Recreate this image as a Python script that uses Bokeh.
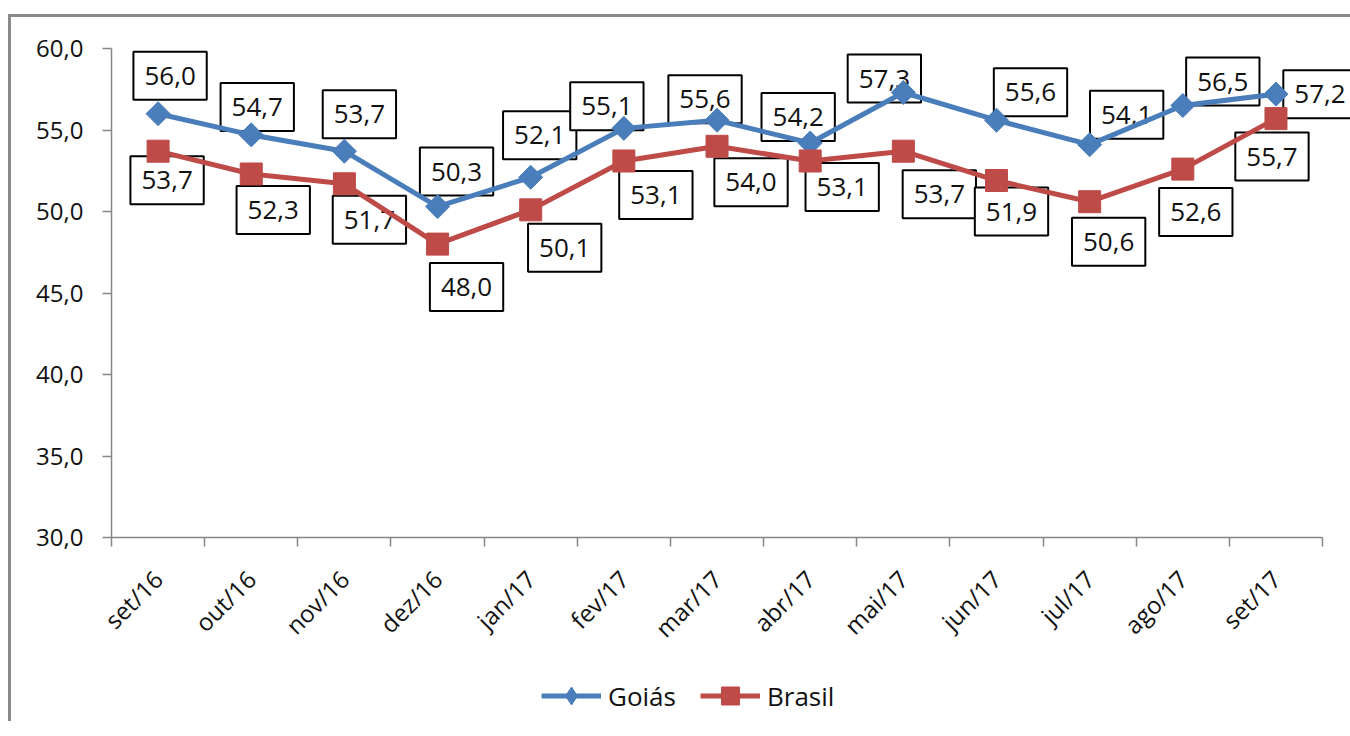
import math
from bokeh.plotting import figure
from bokeh.models import (Range1d, FixedTicker, Label, Legend, LegendItem, Spacer)
from bokeh.layouts import column
from bokeh.embed import file_html
from bokeh.resources import INLINE

# ---- data ----
categories = ["set/16", "out/16", "nov/16", "dez/16", "jan/17", "fev/17", "mar/17",
              "abr/17", "mai/17", "jun/17", "jul/17", "ago/17", "set/17"]
goias = [56.0, 54.7, 53.7, 50.3, 52.1, 55.1, 55.6, 54.2, 57.3, 55.6, 54.1, 56.5, 57.2]
brasil = [53.7, 52.3, 51.7, 48.0, 50.1, 53.1, 54.0, 53.1, 53.7, 51.9, 50.6, 52.6, 55.7]
y_ticks = [30, 35, 40, 45, 50, 55, 60]

# ---- label placement (screen px offsets from point, y up) ----
goias_dx = [12, 6, 15, 19, 9, -17, -12, -12, -19, 34, 37, 40, 44]
goias_dy = [38, 28, 37, 35, 42, 22, 21, 26, 14, 28, 30, 24, 0]
brasil_dx = [9, 22, 25, 29, 34, 32, 34, 32, 36, 15, 19, 13, -4]
brasil_dy = [-29, -36, -36, -43, -38, -34, -36, -26, -43, -31, -40, -43, -38]

FONT = "Open Sans"
BLUE = "#4A7EBB"
RED = "#BE4B48"
GRAY = "#868686"

n = len(categories)
xs = [i + 0.5 for i in range(n)]
bounds = [i for i in range(n + 1)]
# frame runs on to the page edge so the last data label is not cut;
# the axis itself stops at the last category boundary
x_end = n + 0.3

p = figure(width=1350, height=664, output_backend="svg", toolbar_location=None,
           x_range=Range1d(0, x_end), y_range=Range1d(y_ticks[0], y_ticks[-1]),
           min_border_left=111, min_border_right=0, min_border_top=41,
           min_border_bottom=134)
p.outline_line_color = None
p.grid.visible = False
p.background_fill_alpha = 0
p.border_fill_alpha = 0

# y axis
ya = p.yaxis[0]
ya.ticker = FixedTicker(ticks=y_ticks, minor_ticks=[])
ya.major_label_overrides = {t: f"{t:.1f}".replace(".", ",") for t in y_ticks}
ya.axis_line_color = GRAY
ya.axis_line_width = 1.5
ya.major_tick_line_color = GRAY
ya.major_tick_line_width = 1.5
ya.major_tick_in = 0
ya.major_tick_out = 9
ya.minor_tick_line_color = None
ya.major_label_text_font = FONT
ya.major_label_text_font_size = "24px"
ya.major_label_text_color = "#111111"
ya.major_label_standoff = 19

# x axis
xa = p.xaxis[0]
xa.bounds = (0, n)
xa.ticker = FixedTicker(ticks=xs, minor_ticks=bounds)
xa.major_label_overrides = {x: c for x, c in zip(xs, categories)}
xa.axis_line_color = GRAY
xa.axis_line_width = 1.5
xa.major_tick_line_color = None
xa.minor_tick_line_color = GRAY
xa.minor_tick_line_width = 1.5
xa.minor_tick_in = 0
xa.minor_tick_out = 9
xa.major_label_orientation = math.pi / 4
xa.major_label_text_font = FONT
xa.major_label_text_font_size = "24px"
xa.major_label_text_color = "#111111"
xa.major_label_standoff = 28

# series
p.line(xs, goias, line_color=BLUE, line_width=5)
p.scatter(xs, goias, marker="square", angle=math.pi / 4, size=17,
          fill_color=BLUE, line_color=BLUE)
p.line(xs, brasil, line_color=RED, line_width=5)
p.scatter(xs, brasil, marker="square", size=22, fill_color=RED, line_color=RED)

def fmt(v):
    return f"{v:.1f}".replace(".", ",")

for vals, dxs, dys in ((goias, goias_dx, goias_dy), (brasil, brasil_dx, brasil_dy)):
    for x, v, dx, dy in zip(xs, vals, dxs, dys):
        lab = Label(x=x, y=v, x_offset=dx, y_offset=dy, text=fmt(v),
                    text_font=FONT, text_font_size="26px", text_color="#111111",
                    text_align="center", text_baseline="middle",
                    background_fill_color="white", border_line_color="black",
                    border_line_width=2,
                    padding=dict(left=11, right=11, top=15, bottom=15),
                    level="underlay")
        p.add_layout(lab)

# legend strip (same series styles; its own ranges keep the lines out of view)
q = figure(width=1350, height=50, output_backend="svg", toolbar_location=None,
           x_range=Range1d(100, 101), y_range=Range1d(100, 101),
           x_axis_type=None, y_axis_type=None, min_border=0)
q.outline_line_color = None
q.grid.visible = False
q.background_fill_alpha = 0
q.border_fill_alpha = 0
ql1 = q.line(xs, goias, line_color=BLUE, line_width=5)
qm1 = q.scatter(xs, goias, marker="diamond", size=17,
                fill_color=BLUE, line_color=BLUE)
ql2 = q.line(xs, brasil, line_color=RED, line_width=5)
qm2 = q.scatter(xs, brasil, marker="square", size=17, fill_color=RED, line_color=RED)
legend = Legend(items=[LegendItem(label="Goiás", renderers=[ql1, qm1]),
                       LegendItem(label="Brasil", renderers=[ql2, qm2])],
                orientation="horizontal", location=(430, 3),
                glyph_width=60, glyph_height=45, label_text_font=FONT,
                label_text_font_size="26px", label_text_color="#111111",
                label_standoff=7, spacing=24, border_line_color=None,
                background_fill_alpha=0, padding=0, margin=0)
q.add_layout(legend, "center")

inner = column(p, q, spacing=0, styles={
    "background-color": "white",
    "box-shadow": "inset 8px 7px 0 white, inset 11px 10px 0 #8a8a8a"})
layout = column(Spacer(height=7), inner)
open("out.html", "w").write(file_html(layout, INLINE))
